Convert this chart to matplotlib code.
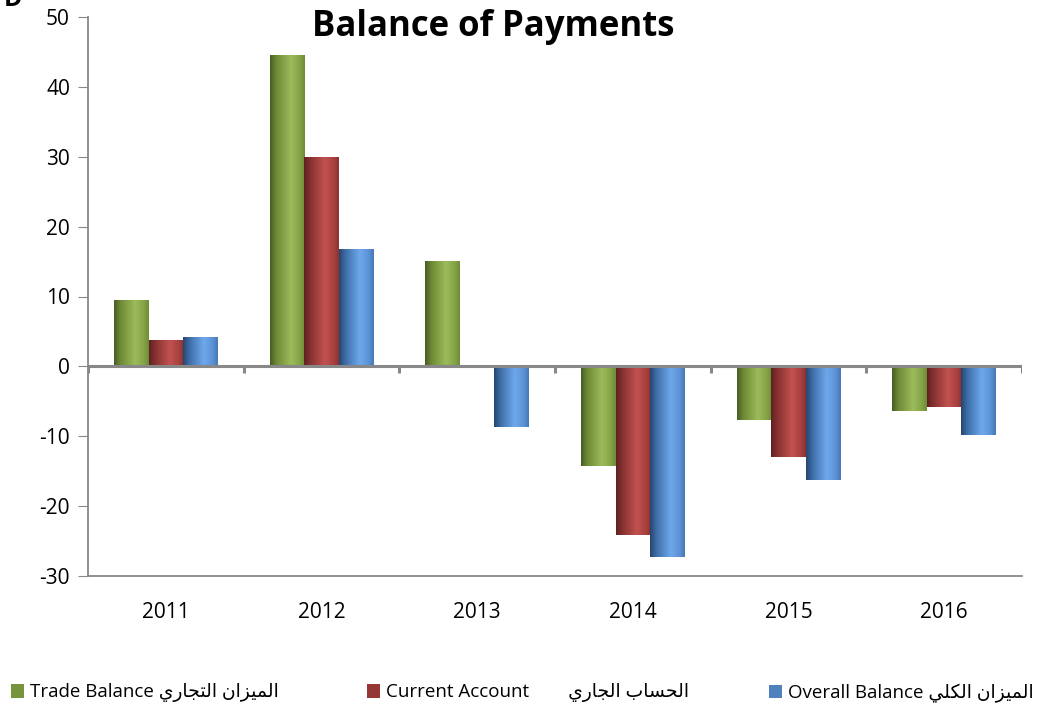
import numpy as np
import matplotlib
matplotlib.use("Agg")
import matplotlib.pyplot as plt
from matplotlib.colors import LinearSegmentedColormap
from matplotlib.patches import Patch

years = ["2011", "2012", "2013", "2014", "2015", "2016"]
trade_balance = [9.5, 44.6, 15.1, -14.2, -7.7, -6.4]
current_account = [3.8, 30.0, 0.0, -24.2, -12.9, -5.8]
overall_balance = [4.2, 16.8, -8.7, -27.3, -16.3, -9.8]
y_ticks = [-30, -20, -10, 0, 10, 20, 30, 40, 50]
title = "Balance of Payments"

# Arabic labels in presentation forms, visual (left-to-right) order
ar_trade = "\uFEF1\uFEAD\uFE8E\uFEA0\uFE98\uFEDF\uFE8D" + " " + "\uFEE5\uFE8D\uFEB0\uFEF4\uFEE4\uFEDF\uFE8D"
ar_current = "\uFEF1\uFEAD\uFE8E\uFEA0\uFEDF\uFE8D" + " " + "\uFE8F\uFE8E\uFEB4\uFEA4\uFEDF\uFE8D"
ar_overall = "\uFEF2\uFEE0\uFEDC\uFEDF\uFE8D" + " " + "\uFEE5\uFE8D\uFEB0\uFEF4\uFEE4\uFEDF\uFE8D"
labels = ["Trade Balance " + ar_trade,
          "Current Account        " + ar_current,
          "Overall Balance " + ar_overall]

series = [trade_balance, current_account, overall_balance]
base_colors = ["#77933C", "#953735", "#4F81BD"]
grad_colors = [
    ["#4A5E24", "#6E8A36", "#9CBB5A", "#86A548", "#6F8C38"],
    ["#5E2221", "#863130", "#C25250", "#A94240", "#8C3331"],
    ["#28456E", "#3E6EA8", "#6EA8EC", "#5C93D6", "#4779B6"],
]

plt.rcParams['font.family'] = ['Open Sans', 'DejaVu Sans']
fig = plt.figure(figsize=(10.48, 7.12), dpi=100)
ax = fig.add_axes([88/1048, 1-576/712, (1022-88)/1048, (576-17)/712])

x = np.arange(len(years))
bw = 0.222
offsets = [-bw, 0, bw]
grad = np.linspace(0, 1, 64).reshape(1, -1)
for vals, off, bc, gc in zip(series, offsets, base_colors, grad_colors):
    cmap = LinearSegmentedColormap.from_list("g", list(zip([0, 0.18, 0.6, 0.85, 1.0], gc)))
    bars = ax.bar(x + off, vals, width=bw, color=bc, edgecolor="none", zorder=2)
    for b in bars:
        if b.get_height() == 0:
            continue
        x0, y0 = b.get_x(), b.get_y()
        w, h = b.get_width(), b.get_height()
        im = ax.imshow(grad, cmap=cmap, aspect="auto",
                       extent=[x0, x0 + w, min(y0, y0 + h), max(y0, y0 + h)],
                       zorder=3, interpolation="bilinear")
        im.set_clip_path(b)

ax.set_xlim(-0.5, len(years) - 0.5)
ax.set_ylim(-30, 50)
ax.set_yticks(y_ticks)
ax.set_yticklabels([str(t) for t in y_ticks], fontsize=15)
ax.tick_params(axis="y", direction="out", length=7, color="#888888", pad=6)
ax.set_xticks(x)
ax.set_xticklabels(years, fontsize=15)
ax.tick_params(axis="x", length=0, pad=19)

gray = "#888888"
for s in ["top", "right"]:
    ax.spines[s].set_visible(False)
ax.spines["left"].set_color(gray)
ax.spines["bottom"].set_color(gray)
ax.spines["left"].set_linewidth(1.3)
ax.spines["bottom"].set_linewidth(1.3)
ax.axhline(0, color=gray, lw=2.2, zorder=4)
bounds = np.arange(len(years) + 1) - 0.5
ax.vlines(bounds, -1.0, 0, color=gray, lw=2.2, zorder=4)

fig.text(493/1048, 1-27/712, title, ha="center", va="center",
         fontsize=25, fontweight="bold")
fig.text(0.004, 1.0, "D", ha="left", va="center", fontsize=18, fontweight="bold")

legend_x = [11/1048, 367/1048, 769/1048]
for lab, c, lx in zip(labels, base_colors, legend_x):
    leg = fig.legend([Patch(facecolor=c, edgecolor="none")], [lab],
                     loc="center left", bbox_to_anchor=(lx, 1-693/712),
                     frameon=False, fontsize=13.5, handlelength=0.7, handleheight=0.7,
                     handletextpad=0.3, borderaxespad=0.0, borderpad=0.0)

fig.savefig("out.png", dpi=100)
